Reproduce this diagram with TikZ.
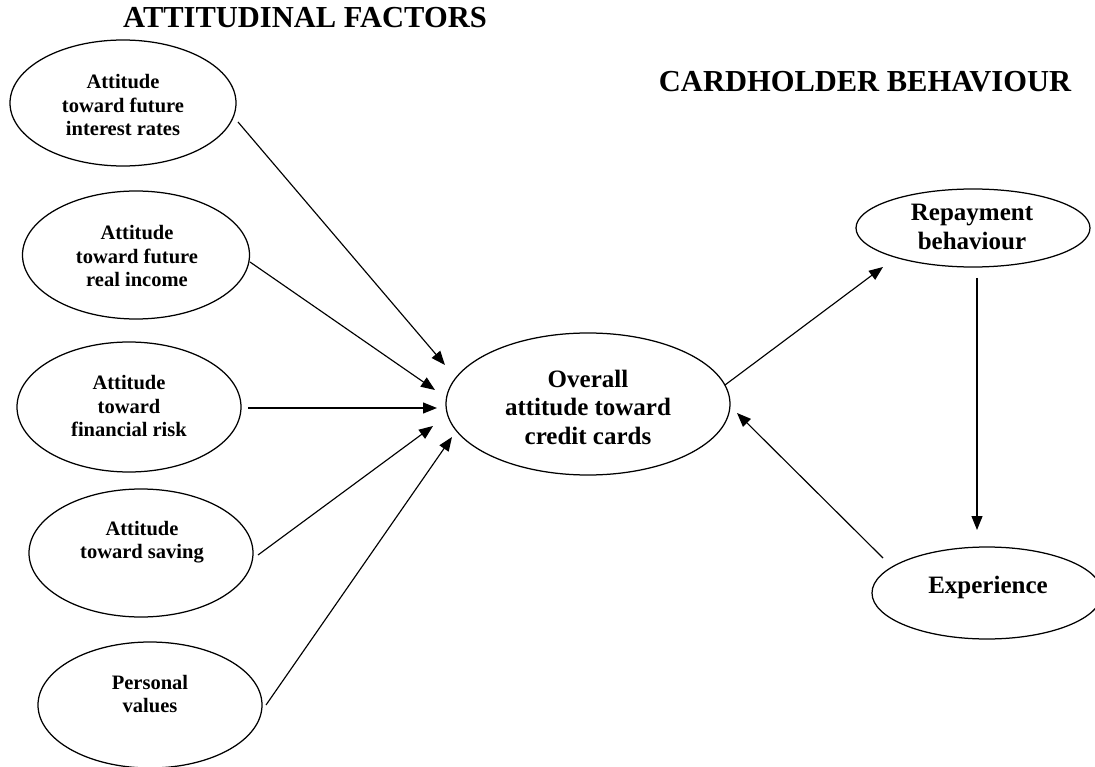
\documentclass[tikz,border=0pt]{standalone}
\usepackage{fontspec}
\setmainfont{Liberation Serif}
\usetikzlibrary{shapes.geometric,arrows.meta}
\begin{document}
\begin{tikzpicture}[x=1pt,y=-1pt,
  ell/.style={draw,ellipse,line width=1.25pt,inner sep=0pt},
  small/.style={font=\fontsize{20.5}{23.5}\selectfont\bfseries,align=center,inner sep=0pt},
  big/.style={font=\fontsize{25}{28.5}\selectfont\bfseries,align=center,inner sep=0pt},
  title/.style={font=\fontsize{30.5}{34}\selectfont\bfseries,anchor=base,inner sep=0pt},
  arr/.style={line width=1.15pt,-{Triangle[length=14pt,width=11pt]}}]
\useasboundingbox (0,0) rectangle (1095,767);
% titles
\node[title] (t1) at (305,28) {ATTITUDINAL FACTORS};
\node[title] (t2) at (865,92) {CARDHOLDER BEHAVIOUR};
% left ellipses
\node[ell,minimum width=226pt,minimum height=126pt] (e1) at (123,103) {};
\node[small] (l1) at (123,105) {Attitude\\toward future\\interest rates};
\node[ell,minimum width=227pt,minimum height=128pt] (e2) at (136,255) {};
\node[small] (l2) at (137,256) {Attitude\\toward future\\real income};
\node[ell,minimum width=224pt,minimum height=130pt] (e3) at (129,407) {};
\node[small] (l3) at (129,406) {Attitude\\toward\\financial risk};
\node[ell,minimum width=224pt,minimum height=128pt] (e4) at (141,553) {};
\node[small] (l4) at (142,542) {Attitude\\toward saving};
\node[ell,minimum width=224pt,minimum height=126pt] (e5) at (150,705) {};
\node[small] (l5) at (150,694) {Personal\\values};
% central
\node[ell,minimum width=284pt,minimum height=142pt] (c) at (588,404) {};
\node[big] (lc) at (588,407) {Overall\\attitude toward\\credit cards};
% right
\node[ell,minimum width=234pt,minimum height=78pt] (r) at (973,228) {};
\node[big] (lr) at (972,227) {Repayment\\behaviour};
\node[ell,minimum width=230pt,minimum height=92pt] (x) at (987,593) {};
\node[big] (lx) at (988,587) {Experience};
% arrows
\draw[arr] ([shift={(115,19)}]e1.center) -- ([shift={(-143,-39)}]c.center);
\draw[arr] ([shift={(114,7)}]e2.center) -- ([shift={(-153,-14)}]c.center);
\draw[arr] ([shift={(119,1)}]e3.center) -- ([shift={(-151,4)}]c.center);
\draw[arr] ([shift={(117,2)}]e4.center) -- ([shift={(-155,22)}]c.center);
\draw[arr] ([shift={(116,0)}]e5.center) -- ([shift={(-136,33)}]c.center);
\draw[arr] ([shift={(137,-19)}]c.center) -- ([shift={(-90,39)}]r.center);
\draw[arr] ([shift={(4,50)}]r.center) -- ([shift={(-10,-63)}]x.center);
\draw[arr] ([shift={(-104,-35)}]x.center) -- ([shift={(149,9)}]c.center);
\end{tikzpicture}
\end{document}
